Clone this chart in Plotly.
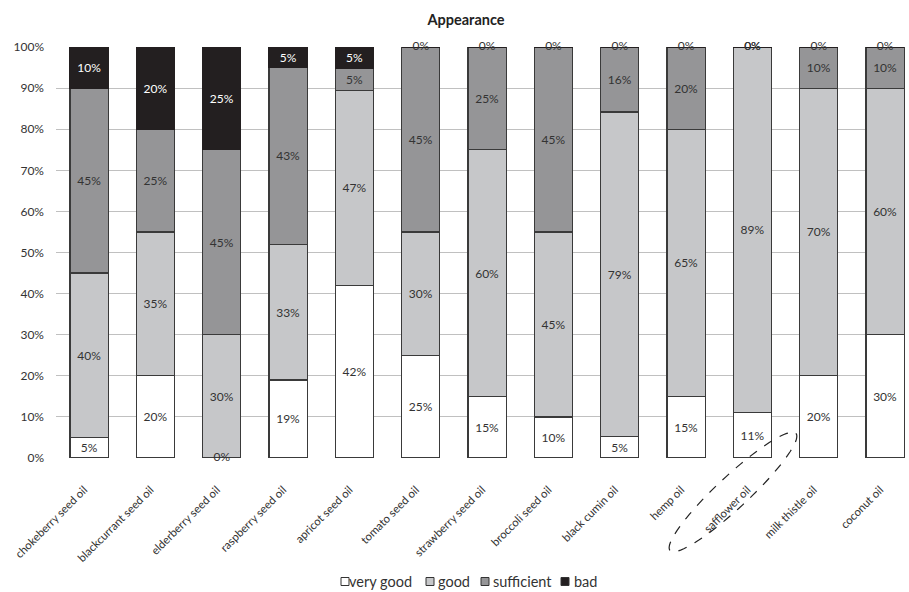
import numpy as np
import plotly.graph_objects as go

categories = ["chokeberry seed oil", "blackcurrant seed oil", "elderberry seed oil",
              "raspberry seed oil", "apricot seed oil", "tomato seed oil",
              "strawberry seed oil", "broccoli seed oil", "black cumin oil",
              "hemp oil", "safflower oil", "milk thistle oil", "coconut oil"]
very_good = [5, 20, 0, 19, 42, 25, 15, 10, 5.3, 15, 11.1, 20, 30]
good = [40, 35, 30, 33, 47.4, 30, 60, 45, 78.9, 65, 88.9, 70, 60]
sufficient = [45, 25, 45, 43, 5.3, 45, 25, 45, 15.8, 20, 0, 10, 10]
bad = [10, 20, 25, 5, 5.3, 0, 0, 0, 0, 0, 0, 0, 0]
series_names = ["very good", "good", "sufficient", "bad"]
y_ticks = [0, 10, 20, 30, 40, 50, 60, 70, 80, 90, 100]

series = [very_good, good, sufficient, bad]
fills = ["#ffffff", "#c6c7c9", "#959597", "#231f20"]
lines = ["#3a3a3a", "#3a3a3a", "#3a3a3a", "#231f20"]
txtcol = ["#333333", "#333333", "#333333", "#ffffff"]
FONT = "Lato, Open Sans, sans-serif"

L, R, T, B = 56, 905, 47, 458
W, H = 909, 592


def pxu(px):
    return (px - L) / (R - L)


def pyu(py):
    return (B - py) / (B - T)


x = list(range(len(categories)))
fig = go.Figure()
for name, vals, fc, lc, tc in zip(series_names, series, fills, lines, txtcol):
    fig.add_trace(go.Bar(
        x=x, y=vals, name=name,
        marker=dict(color=fc, line=dict(color=lc, width=1.2)),
        text=[f"{v:.0f}%" if v > 0 else "" for v in vals],
        textposition="inside", insidetextanchor="middle", textangle=0,
        constraintext="none",
        textfont=dict(size=12, color=tc, family=FONT),
        hoverinfo="skip", showlegend=False,
    ))

# labels for zero-height segments, placed at their stacked position
zx, zy = [], []
cum = np.zeros(len(categories))
for vals in series:
    arr = np.array(vals, dtype=float)
    for i, v in enumerate(arr):
        if v == 0:
            zx.append(i)
            zy.append(cum[i])
    cum += arr
fig.add_trace(go.Scatter(x=zx, y=zy, mode="text", text=["0%"] * len(zx),
                         textposition="middle center", cliponaxis=False,
                         textfont=dict(size=12, color="#333333", family=FONT),
                         showlegend=False, hoverinfo="skip"))

# dashed ellipse around the safflower oil label
cx, cy, a, b, ang = 733, 492, 86, 16, np.deg2rad(43)
t = np.linspace(0, 2 * np.pi, 80)
ex = cx + a * np.cos(t) * np.cos(ang) + b * np.sin(t) * np.sin(ang)
ey = cy - a * np.cos(t) * np.sin(ang) + b * np.sin(t) * np.cos(ang)
path = "M " + " L ".join(f"{pxu(u):.4f},{pyu(v):.4f}" for u, v in zip(ex, ey)) + " Z"
fig.add_shape(type="path", path=path, xref="paper", yref="paper",
              line=dict(color="#222222", width=1.2, dash="dash"))

# legend drawn as squares + text
leg_sq = [341, 426, 481, 561]
leg_tx = [347, 436, 491, 572]
leg_y = 581.5
for name, fc, sx, tx in zip(series_names, fills, leg_sq, leg_tx):
    fig.add_shape(type="rect", xref="paper", yref="paper",
                  x0=pxu(sx), x1=pxu(sx + 8), y0=pyu(leg_y - 4), y1=pyu(leg_y + 4),
                  line=dict(color="#333333", width=1), fillcolor=fc)
    fig.add_annotation(text=name, xref="paper", yref="paper", x=pxu(tx), y=pyu(leg_y),
                       xanchor="left", yanchor="middle", showarrow=False,
                       font=dict(size=14.5, color="#333333", family=FONT))

fig.update_layout(
    width=W, height=H,
    margin=dict(l=L, r=W - R, t=T, b=H - B),
    barmode="stack", bargap=0.425,
    paper_bgcolor="white", plot_bgcolor="white",
    font=dict(family=FONT, size=12, color="#404040"),
    title=dict(text="<b>Appearance</b>", x=466 / W, xref="container",
               y=1 - 20 / H, yref="container", yanchor="middle", xanchor="center",
               font=dict(size=14.5, color="#222222", family=FONT)),
    showlegend=False,
)
fig.update_xaxes(tickmode="array", tickvals=x, ticktext=categories, tickangle=-45,
                 range=[-0.5, 12.3], showgrid=False, showline=False, ticks="",
                 automargin=False, ticklabelshift=-5, ticklabelstandoff=22,
                 tickfont=dict(size=11.3, color="#333333"), fixedrange=True)
fig.update_yaxes(range=[0, 100], tickvals=y_ticks, ticktext=[f"{v}%" for v in y_ticks],
                 showgrid=True, gridcolor="#c0c0c0", gridwidth=1, zeroline=False,
                 showline=False, ticks="", automargin=False, ticklabelstandoff=11,
                 tickfont=dict(size=12, color="#333333"), fixedrange=True)

fig.write_html("out.html", config={"displayModeBar": False},
               post_script="document.body.style.margin='0';document.body.style.overflow='hidden';")
